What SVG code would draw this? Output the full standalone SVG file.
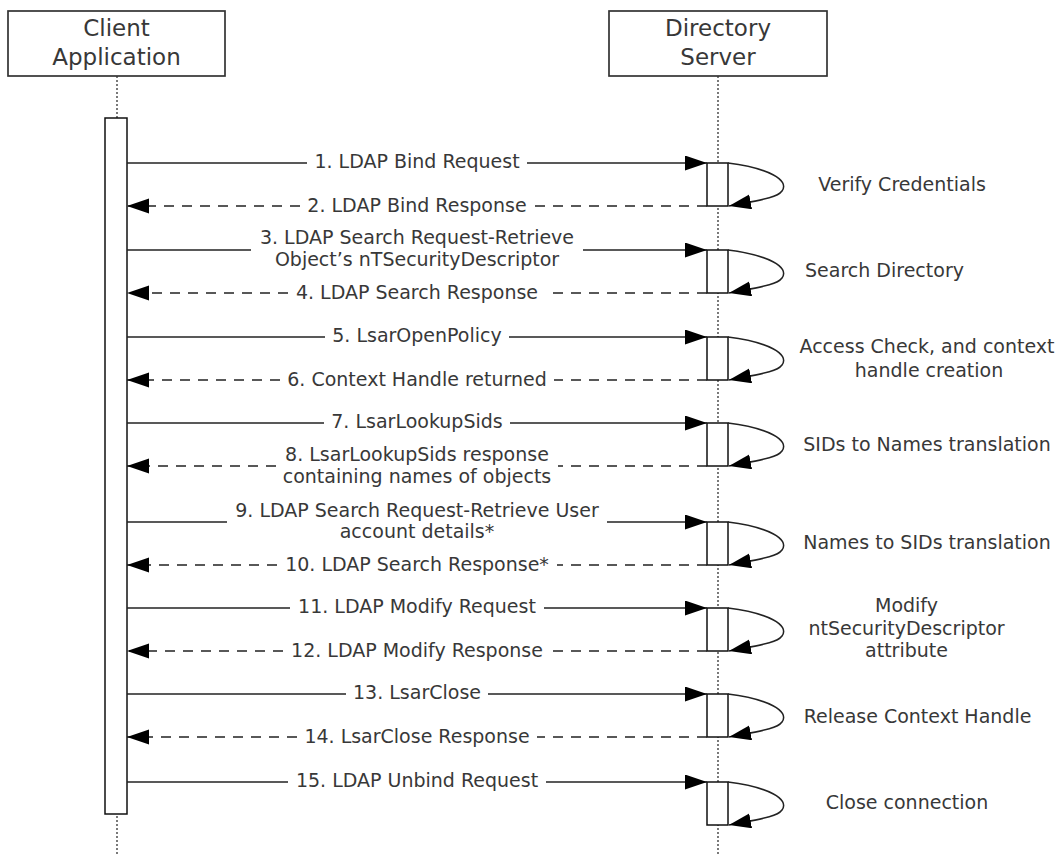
<svg xmlns="http://www.w3.org/2000/svg" width="1060" height="854" viewBox="0 0 1060 854">
<style>
text{font-family:"DejaVu Sans","Verdana",sans-serif;fill:#383838;}
.hdr{font-size:23px;text-anchor:middle;}
.lbl{font-size:19px;text-anchor:middle;}
.box{fill:#fff;stroke:#333;stroke-width:1.7;}
.act{fill:#fff;stroke:#111;stroke-width:1.5;}
.life{stroke:#333;stroke-width:1.3;stroke-dasharray:2 2;fill:none;}
.req{stroke:#222;stroke-width:1.5;fill:none;}
.ret{stroke:#222;stroke-width:1.5;fill:none;stroke-dasharray:10 8;}
.loop{stroke:#222;stroke-width:1.5;fill:none;marker-end:url(#ah);}
</style>
<defs>
<marker id="ah" markerUnits="userSpaceOnUse" markerWidth="23" markerHeight="16" refX="22" refY="7.5" orient="auto">
<path d="M0,0 L22,7.5 L0,15 z" fill="#000"/>
</marker>
</defs>
<rect width="1060" height="854" fill="#fff"/>
<g id="client">
<line class="life" x1="117" y1="76" x2="117" y2="854"/>
<rect class="box" x="8" y="11" width="217" height="65"/>
<text class="hdr" x="116.5" y="36">Client</text>
<text class="hdr" x="116.5" y="65">Application</text>
<rect class="act" x="105" y="118" width="22" height="696"/>
</g>
<g id="server">
<line class="life" x1="718" y1="76" x2="718" y2="854"/>
<rect class="box" x="609" y="11" width="218" height="65"/>
<text class="hdr" x="718" y="36">Directory</text>
<text class="hdr" x="718" y="65">Server</text>
<rect class="act" x="707" y="163" width="21" height="43"/>
<rect class="act" x="707" y="250" width="21" height="43"/>
<rect class="act" x="707" y="337" width="21" height="43"/>
<rect class="act" x="707" y="423" width="21" height="43"/>
<rect class="act" x="707" y="522" width="21" height="43"/>
<rect class="act" x="707" y="608" width="21" height="43"/>
<rect class="act" x="707" y="694" width="21" height="43"/>
<rect class="act" x="707" y="782" width="21" height="43"/>
</g>
<g id="connectors">
<line class="req" x1="127" y1="163" x2="307" y2="163"/>
<line class="req" x1="527" y1="163" x2="707" y2="163" marker-end="url(#ah)"/>
<line class="ret" x1="707" y1="206" x2="534" y2="206"/>
<line class="ret" x1="300" y1="206" x2="127" y2="206" marker-end="url(#ah)"/>
<line class="req" x1="127" y1="250" x2="251" y2="250"/>
<line class="req" x1="583" y1="250" x2="707" y2="250" marker-end="url(#ah)"/>
<line class="ret" x1="707" y1="293" x2="546" y2="293"/>
<line class="ret" x1="288" y1="293" x2="127" y2="293" marker-end="url(#ah)"/>
<line class="req" x1="127" y1="337" x2="325" y2="337"/>
<line class="req" x1="509" y1="337" x2="707" y2="337" marker-end="url(#ah)"/>
<line class="ret" x1="707" y1="380" x2="554" y2="380"/>
<line class="ret" x1="280" y1="380" x2="127" y2="380" marker-end="url(#ah)"/>
<line class="req" x1="127" y1="423" x2="324" y2="423"/>
<line class="req" x1="510" y1="423" x2="707" y2="423" marker-end="url(#ah)"/>
<line class="ret" x1="707" y1="466" x2="558" y2="466"/>
<line class="ret" x1="276" y1="466" x2="127" y2="466" marker-end="url(#ah)"/>
<line class="req" x1="127" y1="522" x2="227" y2="522"/>
<line class="req" x1="607" y1="522" x2="707" y2="522" marker-end="url(#ah)"/>
<line class="ret" x1="707" y1="565" x2="557" y2="565"/>
<line class="ret" x1="277" y1="565" x2="127" y2="565" marker-end="url(#ah)"/>
<line class="req" x1="127" y1="608" x2="290" y2="608"/>
<line class="req" x1="544" y1="608" x2="707" y2="608" marker-end="url(#ah)"/>
<line class="ret" x1="707" y1="651" x2="551" y2="651"/>
<line class="ret" x1="283" y1="651" x2="127" y2="651" marker-end="url(#ah)"/>
<line class="req" x1="127" y1="694" x2="346" y2="694"/>
<line class="req" x1="488" y1="694" x2="707" y2="694" marker-end="url(#ah)"/>
<line class="ret" x1="707" y1="737" x2="537" y2="737"/>
<line class="ret" x1="297" y1="737" x2="127" y2="737" marker-end="url(#ah)"/>
<line class="req" x1="127" y1="782" x2="288" y2="782"/>
<line class="req" x1="546" y1="782" x2="707" y2="782" marker-end="url(#ah)"/>
<path class="loop" d="M728,163 C768,168 790,180 782,191 C777,198 760,200 729,206"/>
<path class="loop" d="M728,250 C768,255 790,267 782,278 C777,285 760,287 729,293"/>
<path class="loop" d="M728,337 C768,342 790,354 782,365 C777,372 760,374 729,380"/>
<path class="loop" d="M728,423 C768,428 790,440 782,451 C777,458 760,460 729,466"/>
<path class="loop" d="M728,522 C768,527 790,539 782,550 C777,557 760,559 729,565"/>
<path class="loop" d="M728,608 C768,613 790,625 782,636 C777,643 760,645 729,651"/>
<path class="loop" d="M728,694 C768,699 790,711 782,722 C777,729 760,731 729,737"/>
<path class="loop" d="M728,782 C768,787 790,799 782,810 C777,817 760,819 729,825"/>
</g>
<g id="message-labels">
<text class="lbl" x="417" y="168">1. LDAP Bind Request</text>
<text class="lbl" x="417" y="212">2. LDAP Bind Response</text>
<text class="lbl" x="417" y="244">3. LDAP Search Request-Retrieve</text>
<text class="lbl" x="417" y="266">Object’s nTSecurityDescriptor</text>
<text class="lbl" x="417" y="299">4. LDAP Search Response</text>
<text class="lbl" x="417" y="342">5. LsarOpenPolicy</text>
<text class="lbl" x="417" y="386">6. Context Handle returned</text>
<text class="lbl" x="417" y="428">7. LsarLookupSids</text>
<text class="lbl" x="417" y="461">8. LsarLookupSids response</text>
<text class="lbl" x="417" y="483">containing names of objects</text>
<text class="lbl" x="417" y="517">9. LDAP Search Request-Retrieve User</text>
<text class="lbl" x="417" y="538">account details*</text>
<text class="lbl" x="417" y="571">10. LDAP Search Response*</text>
<text class="lbl" x="417" y="613">11. LDAP Modify Request</text>
<text class="lbl" x="417" y="657">12. LDAP Modify Response</text>
<text class="lbl" x="417" y="699">13. LsarClose</text>
<text class="lbl" x="417" y="743">14. LsarClose Response</text>
<text class="lbl" x="417" y="787">15. LDAP Unbind Request</text>
</g>
<g id="server-notes">
<text class="lbl" x="902" y="191">Verify Credentials</text>
<text class="lbl" x="884.5" y="277">Search Directory</text>
<text class="lbl" x="927" y="353">Access Check, and context</text>
<text class="lbl" x="929" y="377">handle creation</text>
<text class="lbl" x="927" y="451">SIDs to Names translation</text>
<text class="lbl" x="927" y="549">Names to SIDs translation</text>
<text class="lbl" x="906.5" y="612">Modify</text>
<text class="lbl" x="906.5" y="634.5">ntSecurityDescriptor</text>
<text class="lbl" x="906.5" y="657">attribute</text>
<text class="lbl" x="917.5" y="723">Release Context Handle</text>
<text class="lbl" x="907" y="809">Close connection</text>
</g>
</svg>
